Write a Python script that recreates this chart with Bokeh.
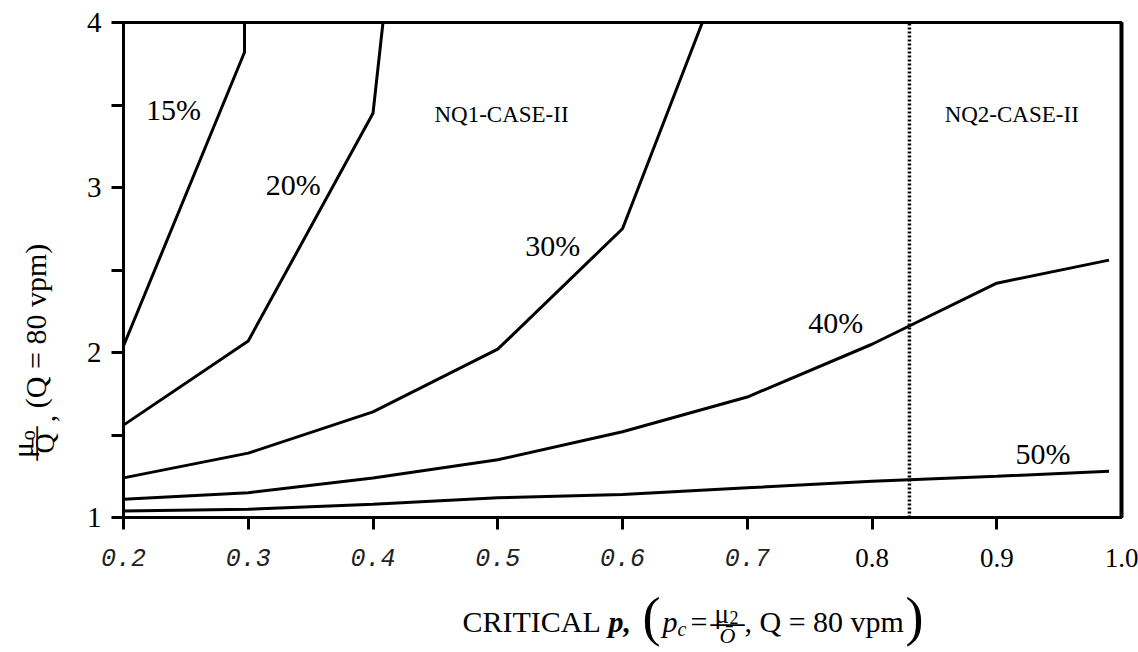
import numpy as np
from bokeh.plotting import figure
from bokeh.models import Range1d, FixedTicker, LinearAxis, Label
from bokeh.layouts import row, column
from bokeh.embed import file_html
from bokeh.resources import INLINE

# ---------------- data ----------------
p15_x = [0.2, 0.297, 0.297]
p15_y = [2.04, 3.82, 4.0]
p20_x = [0.2, 0.3, 0.4, 0.408]
p20_y = [1.56, 2.07, 3.45, 4.0]
p30_x = [0.2, 0.3, 0.4, 0.5, 0.6, 0.664]
p30_y = [1.24, 1.39, 1.64, 2.02, 2.75, 4.0]
p40_x = [0.2, 0.3, 0.4, 0.5, 0.6, 0.7, 0.8, 0.9, 0.99]
p40_y = [1.11, 1.15, 1.24, 1.35, 1.52, 1.73, 2.05, 2.42, 2.56]
p50_x = [0.2, 0.3, 0.4, 0.5, 0.6, 0.7, 0.8, 0.9, 0.99]
p50_y = [1.04, 1.05, 1.08, 1.12, 1.14, 1.18, 1.22, 1.25, 1.28]
boundary_x = [0.83, 0.83]
boundary_y = [1.0, 4.0]

curve_names = ["15%", "20%", "30%", "40%", "50%"]
region_names = ["NQ1-CASE-II", "NQ2-CASE-II"]
x_ticks = [0.2, 0.3, 0.4, 0.5, 0.6, 0.7, 0.8, 0.9]
x_mono_ticks = [0.2, 0.3, 0.4, 0.5, 0.6, 0.7]
x_mono_labels = ["0.2", "0.3", "0.4", "0.5", "0.6", "0.7"]
x_serif_ticks = [0.8, 0.9, 1.0]
x_serif_labels = ["0.8", "0.9", "1.0"]
y_ticks = [1, 2, 3, 4]
y_minor_ticks = [1.5, 2.5, 3.5]

# ---------------- layout (page pixels) ----------------
TOTAL_W, TOTAL_H = 1138, 652
LEFT_W = 64            # strip holding the y title
MAIN_H = 535           # main plot height (bottom strip holds tick labels + x title)
X0, X1 = 0.2, 1.0
Y0, Y1 = 1.0, 4.0
FL, FR, FT, FB = 123, 1121, 22, 517   # frame edges on the page


def dx(px):
    return X0 + (px - FL) * (X1 - X0) / (FR - FL)


SERIF = "Liberation Serif"

# ---------------- main figure ----------------
MAIN_W = TOTAL_W - LEFT_W
p = figure(width=MAIN_W, height=MAIN_H, x_range=Range1d(X0, X1), y_range=Range1d(Y0, Y1),
           output_backend="svg", toolbar_location=None,
           min_border_left=FL - LEFT_W, min_border_right=MAIN_W - (FR - LEFT_W),
           min_border_top=FT, min_border_bottom=MAIN_H - FB)
p.grid.visible = False
p.outline_line_color = "black"
p.outline_line_width = 3

xa = p.xaxis[0]
xa.ticker = FixedTicker(ticks=x_ticks)
xa.major_label_overrides = {t: "" for t in x_ticks}
xa.major_label_text_color = None
xa.major_label_standoff = 0
xa.axis_line_width = 3
xa.major_tick_line_width = 3
xa.major_tick_out = 12
xa.major_tick_in = 0
xa.minor_tick_line_color = None

ya = p.yaxis[0]
ya.ticker = FixedTicker(ticks=y_ticks, minor_ticks=y_minor_ticks)
ya.major_label_text_font = SERIF
ya.major_label_text_font_size = "29px"
ya.major_label_text_color = "black"
ya.major_label_standoff = 10
ya.axis_line_width = 3
ya.major_tick_line_width = 3
ya.major_tick_out = 12
ya.major_tick_in = 0
ya.minor_tick_line_width = 3
ya.minor_tick_line_color = "black"
ya.minor_tick_out = 12
ya.minor_tick_in = 0

ra = LinearAxis(ticker=FixedTicker(ticks=[]), axis_line_width=4,
                major_tick_out=0, major_tick_in=0, minor_tick_out=0, minor_tick_in=0,
                major_label_text_color=None)
p.add_layout(ra, "right")

for xs, ys in [(p15_x, p15_y), (p20_x, p20_y), (p30_x, p30_y), (p40_x, p40_y), (p50_x, p50_y)]:
    p.line(xs, ys, line_color="black", line_width=3)
p.line(boundary_x, boundary_y, line_color="black", line_width=3.5, line_dash="2 2")

curve_label_pos = [(0.240, 3.47), (0.336, 3.02), (0.544, 2.65), (0.771, 2.18), (0.937, 1.39)]
for name, (lx, ly) in zip(curve_names, curve_label_pos):
    p.add_layout(Label(x=lx, y=ly, text=name, text_font=SERIF, text_font_size="30px",
                       text_align="center", text_baseline="middle", text_color="black"))

region_label_pos = [(0.503, 3.44), (0.912, 3.44)]
for name, (lx, ly) in zip(region_names, region_label_pos):
    p.add_layout(Label(x=lx, y=ly, text=name, text_font=SERIF, text_font_size="23px",
                       text_align="center", text_baseline="middle", text_color="black"))


def strip(width, height, xr, yr):
    f = figure(width=width, height=height, x_range=xr, y_range=yr,
               x_axis_type=None, y_axis_type=None, output_backend="svg",
               toolbar_location=None, min_border=0)
    f.grid.visible = False
    f.outline_line_color = None
    return f


def lab(f, x, y, text, size, align="left", baseline="alphabetic", style="normal",
        angle=0.0, font=SERIF, color="black"):
    f.add_layout(Label(x=x, y=y, text=text, text_font=font, text_font_size=f"{size}px",
                       text_align=align, text_baseline=baseline, text_font_style=style,
                       angle=angle, text_color=color))


# ---------------- left strip: y title (page pixel coordinates) ----------------
left = strip(LEFT_W, MAIN_H, Range1d(0, LEFT_W), Range1d(MAIN_H, 0))
A = np.pi / 2
lab(left, 35, 328, "(Q = 80 vpm)", 30, align="center", baseline="middle", angle=A)
lab(left, 45, 428, ",", 30, align="center", baseline="alphabetic", angle=A)
lab(left, 22, 462, "\u03bc", 29, align="center", baseline="middle", angle=A)
lab(left, 27, 446, "o", 20, align="center", baseline="middle", angle=A)
lab(left, 33, 455, "\u2014", 34, align="center", baseline="middle", angle=A)
lab(left, 44, 455, "Q\u0304", 28, align="center", baseline="middle", angle=A)

# ---------------- bottom strip: tick labels + x title ----------------
bottom = strip(TOTAL_W, TOTAL_H - MAIN_H, Range1d(dx(0), dx(TOTAL_W)), Range1d(TOTAL_H, MAIN_H))
TY = 557
for v, t in zip(x_mono_ticks, x_mono_labels):
    lab(bottom, v, TY, t, 25, align="center", baseline="middle", style="italic",
        font="Liberation Mono", color="#222222")
for v, t in zip(x_serif_ticks, x_serif_labels):
    lab(bottom, v, TY, t, 27, align="center", baseline="middle")

BL = 621
lab(bottom, dx(462), BL, "CRITICAL", 30)
lab(bottom, dx(608), BL, "p,", 30, style="bold italic")
lab(bottom, dx(651), 616, "(", 54, align="center", baseline="middle")
lab(bottom, dx(662), BL, "p", 30, style="italic")
lab(bottom, dx(677), BL + 7, "c", 20, style="italic")
lab(bottom, dx(690), BL, "=", 30)
lab(bottom, dx(714), 613, "\u03bc", 27)
lab(bottom, dx(729), 617, "2", 18)
lab(bottom, dx(727), 621, "\u2014", 34, align="center", baseline="middle")
lab(bottom, dx(727), 635, "\u014c", 22, align="center", baseline="middle", style="italic")
lab(bottom, dx(744), BL, ", Q = 80 vpm", 30)
lab(bottom, dx(914), 616, ")", 54, align="center", baseline="middle")

layout = column(row(left, p), bottom)
open("out.html", "w").write(file_html(layout, INLINE))
